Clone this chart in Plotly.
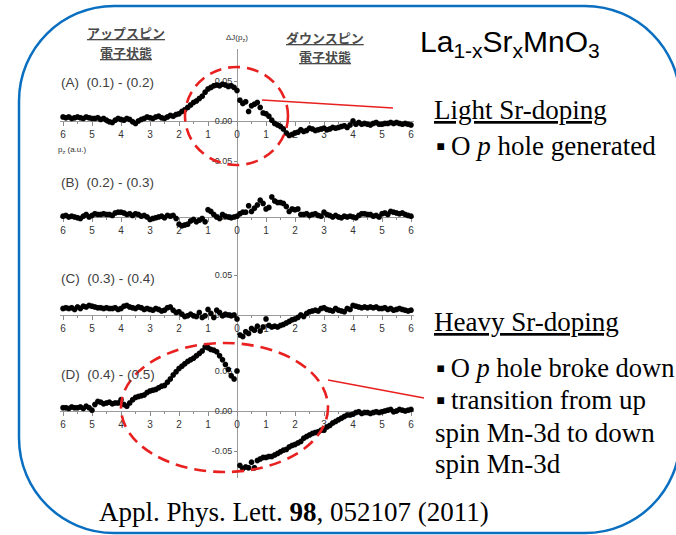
import plotly.graph_objects as go

W, H = 676, 535
def fx(p):
    return p / W
def fy(p):
    return 1 - p / H

# ---------------- data ----------------
pz = [round(-6 + 0.1 * i, 1) for i in range(121)]   # signed p_z grid (left = up spin side)

# Delta J(p_z) values in units of 1e-3
dJ_A_milli = [5, 4, 5, 3, 4, 5, 4, 3, 5, 4, 3,
              3, 4, 2, 3, 1, -1, -2, 1, 3, 2,
              1, 3, 2, -1, -3, 0, 2, 3, 5, 4,
              3, 5, 6, 4, 3, 5, 7, 6, 8, 9,
              12, 14, 17, 20, 23, 25, 28, 31, 36, 40,
              42, 44, 45, 44, 46, 45, 43, 44, 42,
              38,
              26, 22, 24, 12, 19, 21, 23, 17, 10,
              9, 6, 1, -3, -5, -7, -10, -15, -18, -17,
              -15, -14, -11, -13, -12, -9, -10, -12, -11, -10,
              -9, -11, -10, -8, -9, -8, -7, -6, -8, -5,
              0, -4, -2, -4, -3, -4, -5, -3, -2, -4,
              -4, -3, -3, -2, -3, -2, -3, -4, -3, -4, -5]
dJ_B_milli = [1, 2, 0, 1, 0, -1, -2, 1, 3, 0, 2,
              4, 3, 3, 4, 3, 3, 2, 5, 6, 6,
              5, 3, 4, 2, 4, 3, 1, 2, 0, -3,
              -2, -1, 0, 1, -1, 2, 1, 2, -2, -9,
              -11, -10, -9, -5, -3, -6, -4, -2, -6, 9,
              7, 3, 0, -2, 3, 1, 0, -1, 0,
              1,
              4, 6, 6, 14, 7, 11, 15, 21, 17,
              10, 12, 25, 20, 18, 18, 17, 13, 7, 10,
              9, 10, 3, 3, 4, 2, 3, 4, 2, 1,
              6, 3, 2, 0, 2, 0, -1, 1, 0, 1,
              0, -1, 2, 4, 4, 3, 3, 1, 2, 0,
              4, 5, 3, 7, 6, 5, 4, 5, 3, 2, 1]
dJ_C_milli = [8, 9, 8, 9, 7, 10, 8, 11, 10, 12, 11,
              10, 9, 9, 8, 9, 8, 8, 9, 7, 8,
              11, 12, 10, 9, 8, 10, 9, 7, 8, 7,
              6, 8, 7, 5, 6, 9, 10, 6, 3, 4,
              1, -2, -1, 1, -1, -2, 3, -3, -1, 7,
              2, -3, 6, 3, -1, 1, 0, -1, 0,
              -5,
              -25, -27, -21, -23, -17, -19, -14, -20, -15,
              -5, -13, -15, -14, -15, -13, -12, -10, -8, -6,
              -5, -3, 0, -2, 2, 4, 5, 6, 5, 8,
              9, 7, 6, 5, 8, 6, 5, 4, 8, 7,
              12, 11, 10, 9, 10, 9, 10, 9, 10, 8,
              8, 9, 7, 8, 6, 7, 8, 7, 6, 5, 6]
dJ_D_milli = [4, 4, 3, 5, 4, 4, 5, 3, 6, 4, 1,
              8, 12, 11, 9, 10, 11, 9, 10, 10, 14,
              8, 6, 10, 14, 17, 18, 19, 20, 23, 25,
              26, 27, 29, 31, 32, 36, 40, 45, 49, 53,
              56, 59, 62, 64, 66, 69, 72, 75, 80, 79,
              77, 76, 74, 69, 64, 58, 52, 44, 40,
              50,
              -68, -72, -70, -71, -64, -71, -62, -60, -58,
              -58, -57, -57, -55, -53, -51, -49, -48, -45, -43,
              -42, -40, -38, -34, -32, -30, -28, -27, -26, -24,
              -24, -20, -18, -15, -13, -11, -9, -7, -5, -5,
              -4, -2, -1, -3, -2, -2, -3, -2, -1, -2,
              -1, 0, 1, 2, -1, 0, 2, 1, 0, 1, 2]

panel_series = [dJ_A_milli, dJ_B_milli, dJ_C_milli, dJ_D_milli]
panel_labels = ["(A)  (0.1) - (0.2)", "(B)  (0.2) - (0.3)",
                "(C)  (0.3) - (0.4)", "(D)  (0.4) - (0.5)"]
panel_yticks = [[-0.05, 0.0, 0.05], [0.0], [0.0, 0.05], [-0.05, 0.0, 0.05]]
x_tickvals = list(range(-6, 7))
x_ticktext = [str(abs(v)) for v in x_tickvals]

# ---------------- layout geometry (pixels) ----------------
zero_px = [121, 217, 315, 411]
dom_px = [(49, 172), (165, 262), (255, 358), (335, 478)]
x_center, px_per_unit = 237, 29.0
x_left, x_right = 60, 414
px_per_val = 800.0

fig = go.Figure()
layout = dict(width=W, height=H, margin=dict(l=0, r=0, t=0, b=0),
              paper_bgcolor="white", plot_bgcolor="rgba(0,0,0,0)", showlegend=False)

for i in range(4):
    n = "" if i == 0 else str(i + 1)
    yv = [v / 1000.0 for v in panel_series[i]]
    fig.add_trace(go.Scatter(
        x=pz, y=yv, mode="markers", xaxis="x" + n, yaxis="y" + n,
        marker=dict(size=5.5, color="black"),
        error_y=dict(type="constant", value=0.003, color="#808080", thickness=0.8, width=1.5),
        cliponaxis=False, hoverinfo="skip"))
    top, bot = dom_px[i]
    z = zero_px[i]
    layout["xaxis" + n] = dict(
        domain=[fx(x_left), fx(x_right)],
        range=[-(x_center - x_left) / px_per_unit, (x_right - x_center) / px_per_unit],
        anchor="free", position=fy(z),
        tickvals=x_tickvals, ticktext=x_ticktext,
        ticks="outside", ticklen=4, tickcolor="#8a8a8a", tickwidth=1,
        minor=dict(dtick=0.5, ticks="outside", ticklen=2, tickcolor="#8a8a8a"),
        showline=True, linecolor="#9a9a9a", linewidth=1,
        showgrid=False, zeroline=False, layer="below traces",
        tickfont=dict(family="Liberation Sans, Arial", size=10, color="#333333"))
    layout["yaxis" + n] = dict(
        domain=[fy(bot), fy(top)],
        range=[(z - bot) / px_per_val, (z - top) / px_per_val],
        anchor="free", position=fx(x_center), side="left",
        tickvals=panel_yticks[i], ticktext=["%.2f" % v for v in panel_yticks[i]],
        ticks="outside", ticklen=3, tickcolor="#8a8a8a",
        showline=True, linecolor="#9a9a9a", linewidth=1,
        showgrid=False, zeroline=False, layer="below traces",
        tickfont=dict(family="Liberation Sans, Arial", size=9, color="#333333"))

fig.update_layout(**layout)

# ---------------- annotations ----------------
ann = []
def add_text(text, x, y, size, family, color="black", xanchor="left"):
    ann.append(dict(text=text, x=fx(x), y=fy(y), xref="paper", yref="paper",
                    xanchor=xanchor, yanchor="middle", showarrow=False,
                    font=dict(family=family, size=size, color=color)))

jp = "Noto Sans CJK JP"
add_text("<u><b>アップスピン</b></u>", 126, 33, 13, jp, "#4a4a4a", "center")
add_text("<u><b>電子状態</b></u>", 126, 52, 13, jp, "#4a4a4a", "center")
add_text("<u><b>ダウンスピン</b></u>", 325, 38, 13, jp, "#4a4a4a", "center")
add_text("<u><b>電子状態</b></u>", 325, 57, 13, jp, "#4a4a4a", "center")
add_text("ΔJ(p<sub>z</sub>)", 237, 38, 8, "Liberation Sans, Arial", "#333333", "center")
add_text("p<sub>z</sub> (a.u.)", 56, 150, 8, "Liberation Sans, Arial", "#333333")
label_y = [83, 182, 278, 374]
for i in range(4):
    add_text(panel_labels[i], 59, label_y[i], 13.5, "Liberation Sans, Arial", "#404040")

sans = "Liberation Sans, Arial"
serif = "Liberation Serif, Times New Roman"
add_text("La<sub>1-x</sub>Sr<sub>x</sub>MnO<sub>3</sub>", 418, 44, 30, sans)
add_text("<u>Light Sr-doping</u>", 432, 110, 27, serif)
add_text("▪\u2009O <i>p</i> hole generated", 434, 146, 27, serif)
add_text("<u>Heavy Sr-doping</u>", 432, 322, 27, serif)
add_text("▪\u2009O <i>p</i> hole broke down", 434, 368, 26.5, serif)
add_text("▪\u2009transition from up", 434, 400, 27, serif)
add_text("spin Mn-3d to down", 433, 433, 27, serif)
add_text("spin Mn-3d", 433, 464, 27, serif)
add_text("Appl. Phys. Lett. <b>98</b>, 052107 (2011)", 97, 512, 27, serif)
fig.update_layout(annotations=ann)

# ---------------- shapes ----------------
shapes = []
red = "#E8201F"
def ellipse(x0, y0, x1, y1):
    shapes.append(dict(type="circle", xref="paper", yref="paper",
                       x0=fx(x0), x1=fx(x1), y0=fy(y1), y1=fy(y0),
                       line=dict(color=red, width=2.6, dash="12px,7px")))
def seg(x0, y0, x1, y1):
    shapes.append(dict(type="line", xref="paper", yref="paper",
                       x0=fx(x0), y0=fy(y0), x1=fx(x1), y1=fy(y1),
                       line=dict(color=red, width=1.5)))
ellipse(185, 67, 288, 165)
seg(262, 100, 393, 108)
ellipse(121, 343, 328, 472)
seg(328, 380, 424, 398)

# rounded blue frame
bx0, by0, bx1, by1, r = 19, 6, 680, 533, 95
k = 0.5523 * r
def P(x, y):
    return "%.5f,%.5f" % (fx(x), fy(y))
path = ("M" + P(bx0 + r, by0) + " L" + P(bx1 - r, by0) +
        " C" + P(bx1 - r + k, by0) + " " + P(bx1, by0 + r - k) + " " + P(bx1, by0 + r) +
        " L" + P(bx1, by1 - r) +
        " C" + P(bx1, by1 - r + k) + " " + P(bx1 - r + k, by1) + " " + P(bx1 - r, by1) +
        " L" + P(bx0 + r, by1) +
        " C" + P(bx0 + r - k, by1) + " " + P(bx0, by1 - r + k) + " " + P(bx0, by1 - r) +
        " L" + P(bx0, by0 + r) +
        " C" + P(bx0, by0 + r - k) + " " + P(bx0 + r - k, by0) + " " + P(bx0 + r, by0) + " Z")
shapes.append(dict(type="path", xref="paper", yref="paper", path=path,
                   line=dict(color="#0A6FC0", width=2.5), layer="below"))
fig.update_layout(shapes=shapes)

fig.write_html("out.html")
